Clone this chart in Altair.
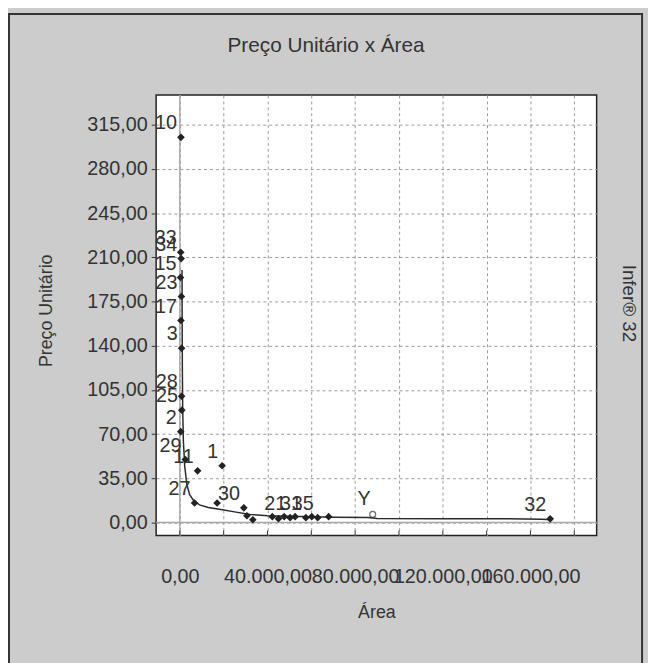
import altair as alt
import pandas as pd

# ---- data ----
point_labels = ["10", "33", "34", "15", "23", "17", "3", "28", "25", "2", "29",
                "27", "11", "1", "", "30", "", "", "", "", "", "21", "",
                "31", "", "35", "", "32"]
point_area = [500, 400, 600, 300, 700, 500, 800, 800, 900, 400, 2500,
              6700, 8100, 19300, 17000, 29200, 30600, 33300, 42200, 45000, 47600, 50300, 52600,
              57500, 60200, 62900, 67900, 169000]
point_price = [305, 214, 209, 194, 179, 160, 138, 100, 89, 72, 50,
               15.5, 41, 45, 15.5, 11.7, 5.4, 2.3, 4.7, 3.1, 4.7, 3.9, 4.7,
               3.9, 4.7, 3.9, 4.7, 3.0]

curve_area = [1000, 1050, 1150, 1300, 1600, 2200, 3200, 4500, 6500, 9000, 13000,
              18000, 25000, 32000, 40000, 55000, 70000, 86000, 90000, 120000,
              150000, 165000, 170000]
curve_price = [200, 160, 120, 90, 65, 45, 30, 22, 17, 14, 12,
               10.5, 8.5, 6.5, 5.5, 4.8, 4.3, 4.0, 3.2, 3.0,
               3.0, 2.6, 2.3]

proj_label = ["Y"]
proj_area = [88000]
proj_price = [6.5]

x_grid = [0, 20000, 40000, 60000, 80000, 100000, 120000, 140000, 160000, 180000]
x_labels = [0, 40000, 80000, 120000, 160000]
y_ticks = [0, 35, 70, 105, 140, 175, 210, 245, 280, 315]

pts = pd.DataFrame({"Área": point_area, "Preço": point_price, "label": point_labels})
curve = pd.DataFrame({"Área": curve_area, "Preço": curve_price})
proj = pd.DataFrame({"Área": proj_area, "Preço": proj_price, "label": proj_label})
xt = pd.DataFrame({"Área": x_grid})
zero = pd.DataFrame({"Área": [0], "Preço": [0]})

FONT = "Liberation Sans"
W, H = 446, 446
BR = "replace(replace(replace(format(datum.value, ',.2f'), ',', '#'), '.', ','), '#', '.')"

xscale = alt.Scale(domain=[-10817, 190200], nice=False, zero=False)
yscale = alt.Scale(domain=[-10.2, 338.5], nice=False, zero=False)

xaxis = alt.Axis(values=x_grid, labelExpr=f"indexof({x_labels}, datum.value) >= 0 ? {BR} : ''",
                 grid=True, gridDash=[3, 3], gridColor="#9a9a9a", gridWidth=1,
                 ticks=False, domain=False, labelOverlap=False, labelBound=False,
                 labelFont=FONT, labelFontSize=20, labelColor="#333", labelPadding=32,
                 title="Área", titleFont=FONT, titleFontSize=18, titleFontWeight="normal",
                 titleColor="#333", titleY=78, titleBaseline="middle")
yaxis = alt.Axis(values=y_ticks, labelExpr=BR,
                 grid=True, gridDash=[3, 3], gridColor="#9a9a9a", gridWidth=1,
                 ticks=True, tickSize=5, tickColor="#333", domain=False,
                 labelOverlap=False, labelBound=False,
                 labelFont=FONT, labelFontSize=20, labelColor="#333", labelPadding=4,
                 title="Preço Unitário", titleFont=FONT, titleFontSize=18,
                 titleFontWeight="normal", titleColor="#333", titleAngle=270,
                 titleX=-111, titleY=218, titleAlign="center", titleBaseline="middle")

base_x = alt.X("Área:Q", scale=xscale, axis=xaxis)
base_y = alt.Y("Preço:Q", scale=yscale, axis=yaxis)

grid_layer = alt.Chart(pts).mark_point(opacity=0).encode(x=base_x, y=base_y)

zero_v = alt.Chart(zero).mark_rule(color="#a8a8a8", strokeWidth=1.5).encode(
    x=alt.X("Área:Q", scale=xscale), y=alt.value(0), y2=alt.value(H))
zero_h = alt.Chart(zero).mark_rule(color="#a8a8a8", strokeWidth=1.5).encode(
    y=alt.Y("Preço:Q", scale=yscale), x=alt.value(0), x2=alt.value(W))

ticks_in = alt.Chart(xt).mark_rule(color="#333", strokeWidth=1).encode(
    x=alt.X("Área:Q", scale=xscale), y=alt.value(H), y2=alt.value(H - 5))

line = alt.Chart(curve).mark_line(color="#2a2a2a", strokeWidth=1.5).encode(
    x=alt.X("Área:Q", scale=xscale), y=alt.Y("Preço:Q", scale=yscale))

points = alt.Chart(pts).mark_point(shape="diamond", filled=True, color="#222", size=60, opacity=1).encode(
    x=alt.X("Área:Q", scale=xscale), y=alt.Y("Preço:Q", scale=yscale))

labels = alt.Chart(pts).mark_text(align="right", baseline="alphabetic", dx=-4, dy=-8,
                                  font=FONT, fontSize=20, color="#333").encode(
    x=alt.X("Área:Q", scale=xscale), y=alt.Y("Preço:Q", scale=yscale), text="label:N")

proj_pt = alt.Chart(proj).mark_point(shape="circle", filled=False, color="#333", size=35, strokeWidth=1.3).encode(
    x=alt.X("Área:Q", scale=xscale), y=alt.Y("Preço:Q", scale=yscale))
proj_lbl = alt.Chart(proj).mark_text(align="right", baseline="alphabetic", dx=-2, dy=-10,
                                     font=FONT, fontSize=20, color="#333").encode(
    x=alt.X("Área:Q", scale=xscale), y=alt.Y("Preço:Q", scale=yscale), text="label:N")

side = alt.Chart(pd.DataFrame({"t": ["Infer® 32"]})).mark_text(
    angle=90, font=FONT, fontSize=19, color="#333", align="center", baseline="middle").encode(
    x=alt.value(479), y=alt.value(211), text="t:N")

title = alt.Chart(pd.DataFrame({"t": ["Preço Unitário x Área"]})).mark_text(
    font=FONT, fontSize=21, color="#333", align="center", baseline="middle").encode(
    x=alt.value(172), y=alt.value(-50), text="t:N")

outer = alt.Chart(pd.DataFrame({"a": [0]})).mark_rect(
    fill=None, stroke="#333", strokeWidth=2).encode(
    x=alt.value(-149), x2=alt.value(492), y=alt.value(-82), y2=alt.value(600))

chart = alt.layer(grid_layer, zero_v, zero_h, ticks_in, line, points, labels,
                  proj_pt, proj_lbl, side, title, outer).properties(
    width=W, height=H,
    autosize=alt.AutoSizeParams(type="none"),
    padding={"left": 150, "top": 84, "right": 52, "bottom": 125},
    background="#cccccc",
).configure_view(fill="white", stroke="#222", strokeWidth=1.5, clip=False)

chart.save("out.html", embed_options={"renderer": "svg", "actions": False})
